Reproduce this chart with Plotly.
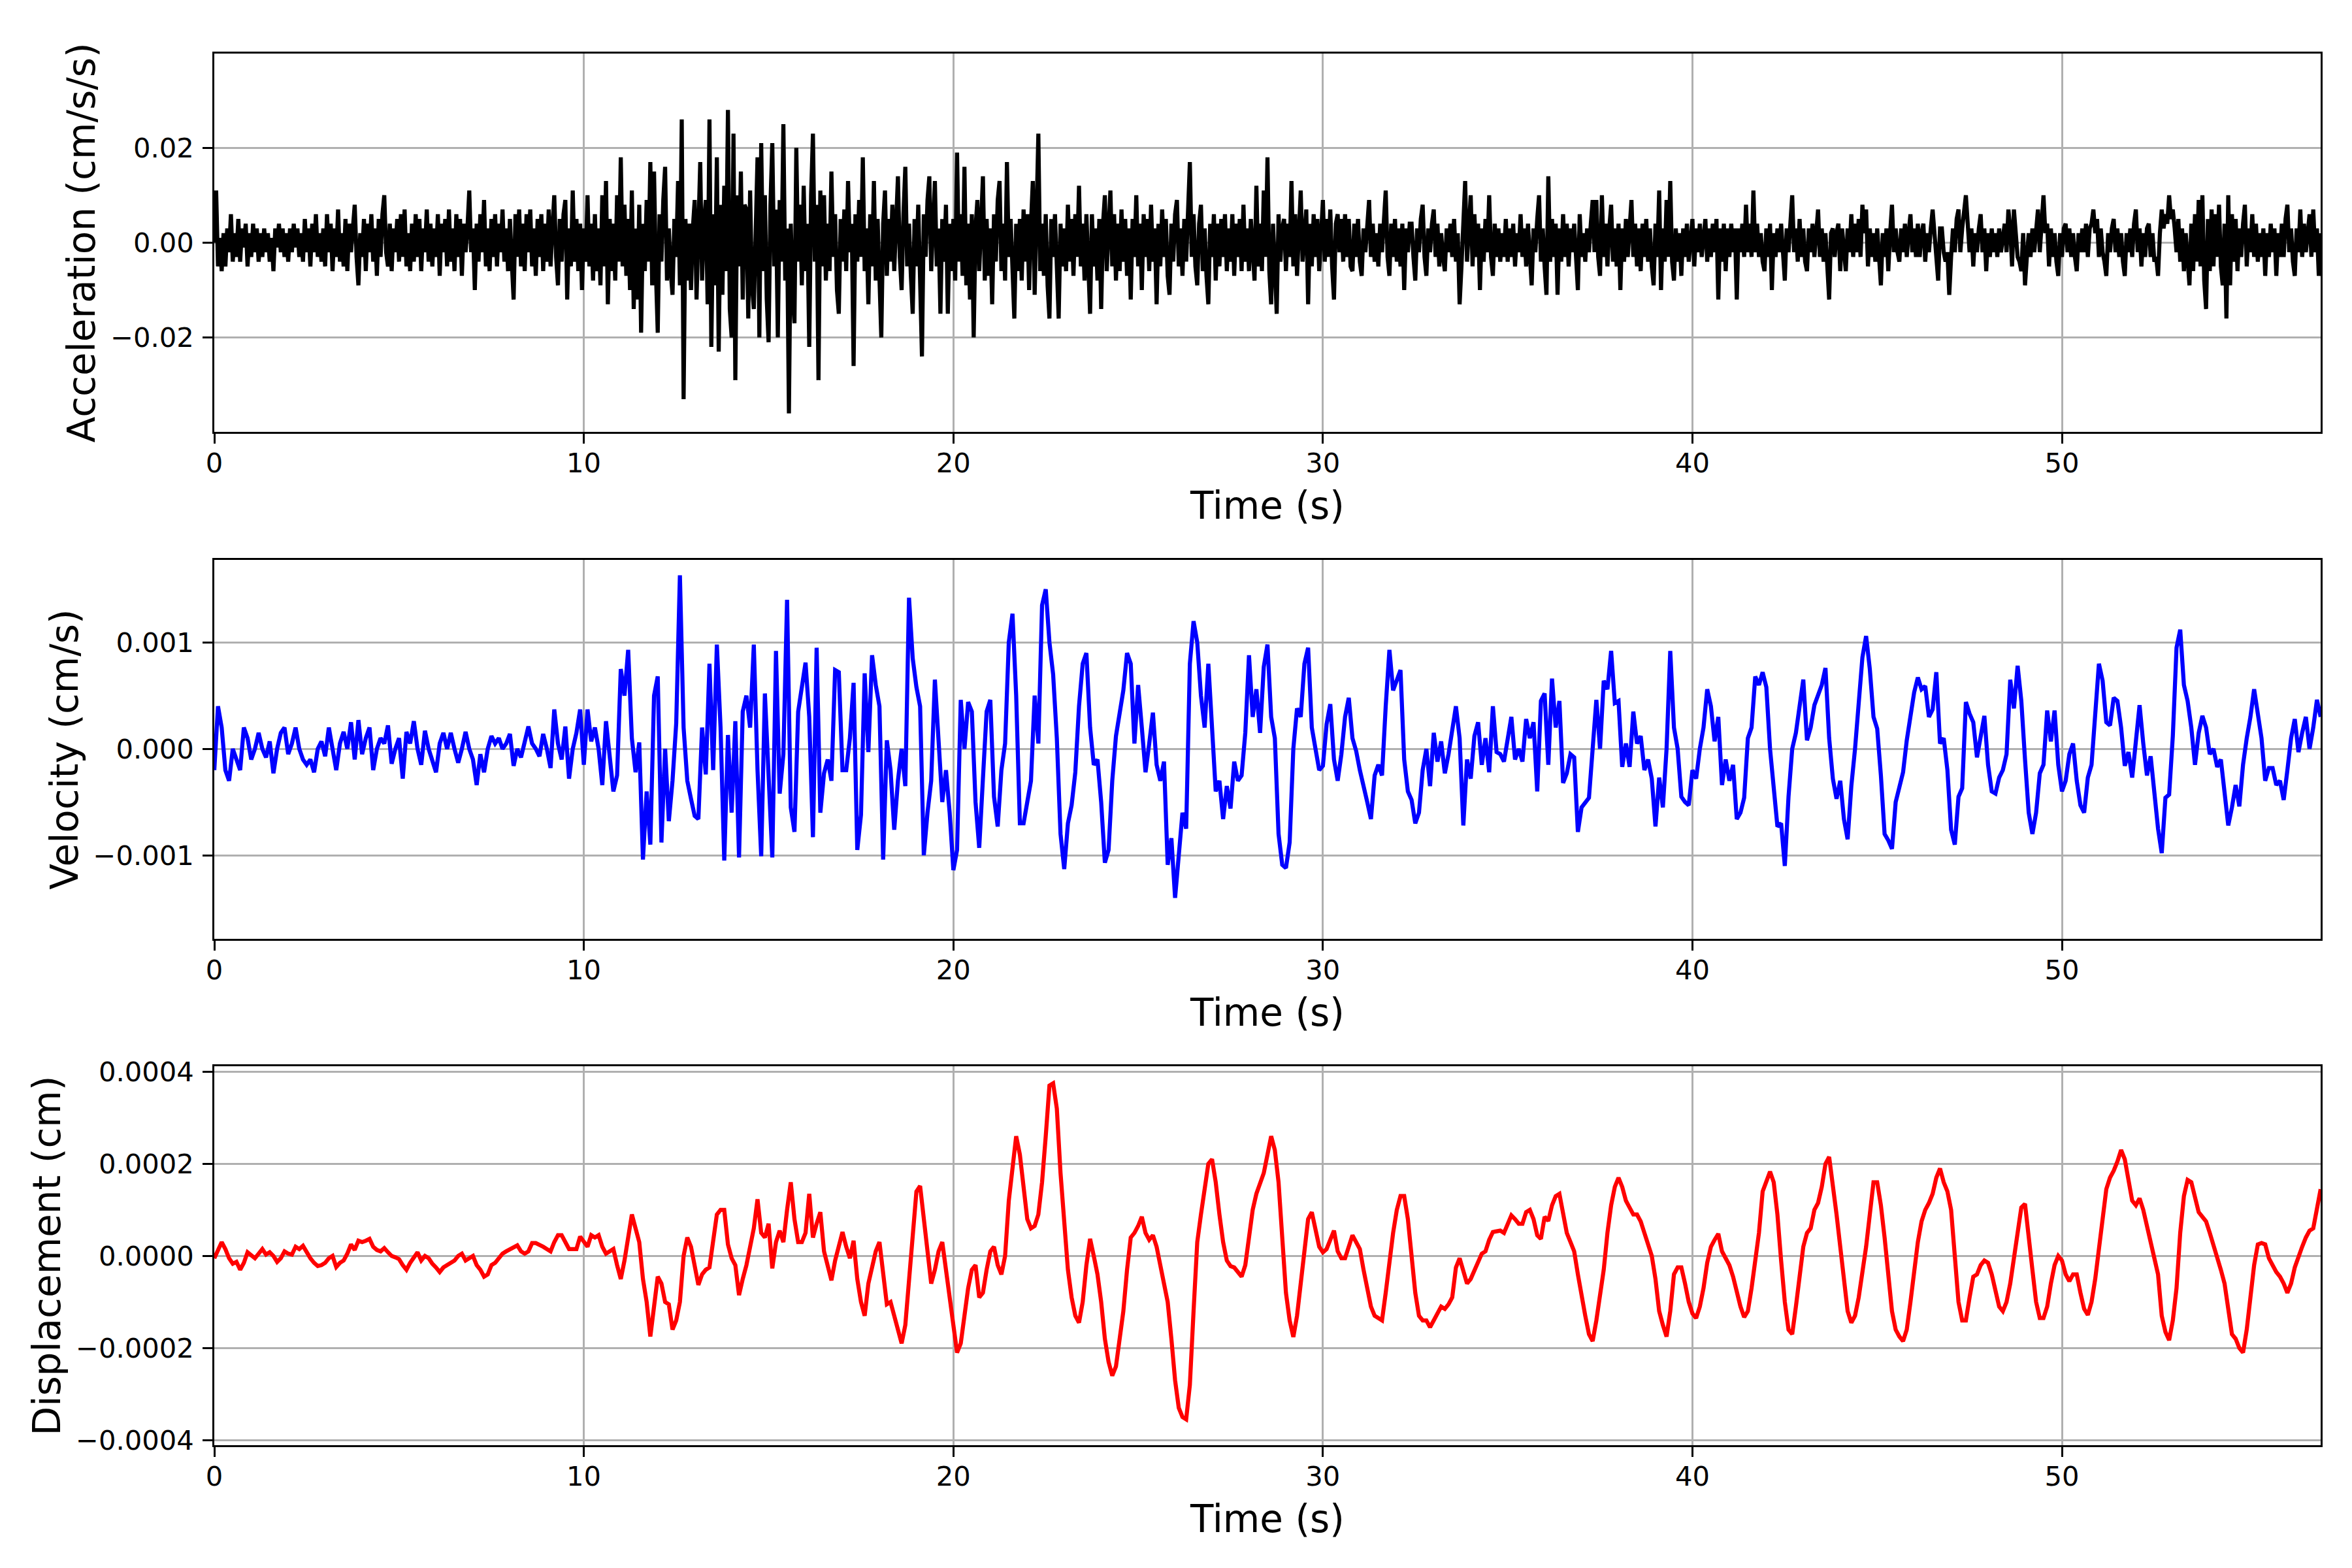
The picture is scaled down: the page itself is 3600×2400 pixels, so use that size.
import numpy as np
import plotly.graph_objects as go

# sample spacing of each record (s)
DT_ACC = 0.05
DT_VEL = 0.1
DT_DISP = 0.1

# acceleration, units of 1e-3 cm/s/s, one row per second
ACC_MILLI = [
    0, 11, -5, 1, -6, 2, -5, 3, -2, 6, -4, 2, -3, 5, -4, 3, -1, 4, -5, 2,
    -3, 4, -2, 3, -4, 2, -3, 3, -2, 2, -4, 1, -6, 3, -1, 4, -2, 3, -3, 2,
    -4, 3, -2, 4, -1, 3, -3, 2, -4, 5, -2, 3, -5, 4, -2, 6, -3, 2, -4, 3,
    -5, 6, -2, 4, -6, 3, -3, 7, -4, 2, -5, 5, -6, 4, -2, 4, 8, -3, -9, 2,
    -3, 5, -6, 4, -2, 6, -4, 3, -7, 5, -3, 6, 10, -2, -5, 4, -6, 3, -2, 5,
    -4, 6, -3, 7, -5, 2, -6, 4, -4, 6, -3, 5, -6, 3, -2, 7, -4, 4, -5, 3,
    -3, 6, -7, 4, -2, 5, -5, 7, -4, 3, -6, 6, -3, 5, -7, 4, -2, 3, 11, -2,
    3, -10, 4, -4, 6, -2, 9, -5, 3, -6, 5, -3, 6, -5, 4, -2, 7, -4, 3, -6,
    5, -4, -12, 6, -3, 7, -5, 4, -6, 6, -2, 7, -5, 3, -7, 5, -3, 6, -6, 4,
    -4, 7, -5, 3, 10, -3, -9, 5, -4, 6, 9, -12, 3, -5, 11, -4, 5, -6, 4, -10,
    3, -4, 10, -5, 4, -8, 6, -6, 3, -9, 10, -5, 13, -13, 5, -6, 4, -8, 10, -4,
    18, -5, 8, -7, 5, -10, 11, -14, 3, -12, 8, -19, 4, -6, 9, -4, 17, -9, 15, -6,
    -19, 6, -4, 9, 16, -8, 3, -6, -11, 5, -3, 13, -9, 26, -33, 5, -8, 4, -10, 3,
    9, -12, 6, 17, -8, 4, 9, -13, 26, -22, 6, -9, 18, -23, 8, -11, 12, -6, 28, -14,
    -20, 23, -29, 10, -5, 15, -12, 8, 7, -16, 11, -9, -14, 6, 18, -20, 21, -6, 10, -12,
    -21, 8, 21, -5, 7, -20, 9, -4, 25, -8, 3, -36, 4, -10, -17, 20, -4, 8, -9, 12,
    -6, 4, -22, 10, 23, -4, 8, -29, 11, -5, 10, -8, 4, -6, 15, -3, 6, -10, -15, 5,
    -4, 7, -6, 13, -2, 4, -26, 6, -4, 9, -3, 18, -6, 3, -13, 6, -5, 13, -8, 5,
    -6, -20, 4, 11, -7, 5, -4, 8, -6, 3, 14, -3, -10, 6, 16, -5, 4, -7, -15, 5,
    -5, 8, -10, -24, 6, -3, 9, 14, -6, 4, 13, -5, 3, -15, 5, -4, 8, -15, 4, -6,
    5, -8, 19, -4, 6, -7, 16, -9, 4, -12, 6, -20, 3, 9, -6, 4, 14, -8, 5, -7,
    3, -13, 6, -4, 9, 13, -6, 4, -8, 17, -3, 5, -9, -16, 4, -6, 5, -8, 7, -4,
    6, -10, 4, 13, -11, 5, 23, -6, 4, -7, 6, -9, -16, 5, -3, 6, -8, -16, 4, -5,
    3, -6, 8, -4, 5, -7, 6, -3, 12, -5, 4, -8, 6, -4, -15, 6, -5, 3, -8, 5,
    -14, 4, 10, -6, 3, 11, -5, 6, -8, 4, -6, 7, -4, 5, -7, 3, -12, 5, -3, 10,
    -5, 4, -10, 6, -3, 5, -6, 8, -4, 3, -13, 4, -5, 7, -3, 5, -7, -11, 4, -4,
    6, 9, -5, 3, -7, 5, -4, 6, 17, -3, 6, -5, -9, 4, 8, -6, 3, -7, -13, 4,
    -3, 6, -8, 4, -5, 5, -3, 6, -6, 3, -4, 6, -7, 4, -3, 5, -6, 8, -4, 3,
    -6, 5, -3, -8, 12, -5, 4, -6, 11, -3, 18, -6, -13, 4, -5, -15, 6, -4, 3, 5,
    -6, 4, -3, 13, -5, 6, -7, 4, 11, -4, 3, 7, -13, 4, -5, 6, -3, 5, -6, 3,
    9, -4, 5, -3, 7, -5, -12, 4, 6, -2, 5, -4, 6, -3, 5, -5, -6, 4, -3, 5,
    -4, -7, 3, -2, 5, 9, -3, 4, -4, 2, -5, 4, -2, 6, 11, -3, -7, 4, -3, 5,
    -4, 3, -5, 4, -10, 3, -2, 4, 4, -3, -8, 3, -2, 5, 8, -3, -7, 3, -2, 4,
    7, -3, 4, -5, 2, -3, -6, 3, -2, 4, -3, 5, -4, 2, -13, -5, 6, 13, -4, 3,
    10, -5, 6, -3, 4, -10, 3, -4, 5, -2, 10, -3, -7, 4, -3, 3, -4, 2, -3, 5,
    -4, 3, -3, 4, -5, 2, -2, 6, -3, 3, -5, 4, -3, -9, 3, -2, 5, 10, -4, 3,
    -5, -11, 14, -4, 5, -3, 4, -11, 3, -4, 6, -3, 4, -5, 3, -2, 4, -4, -10, 6,
    -3, 2, -4, 3, -2, 4, 9, -2, 9, -3, -7, 10, -3, 4, -5, 3, 8, -4, 3, -5,
    4, -10, 3, -4, 5, -3, 4, 9, -3, 4, -5, 3, -6, 4, -3, 5, -4, 3, -5, -9,
    4, -3, 11, -10, 3, -4, 9, -3, 13, -4, -8, 3, -4, 2, -7, 3, -3, 4, -4, 2,
    5, -5, 3, -2, 4, -3, 2, 5, -4, 3, -3, 4, -2, 5, -12, 3, -4, 4, -6, 3,
    -3, 4, -2, 3, -12, 3, -2, 4, -3, 8, -2, 4, -3, 11, -2, 4, -3, 2, -4, -6,
    3, -3, 4, -10, 2, -3, 3, -2, 4, -4, -8, 3, -2, 4, 10, -2, 3, -4, 5, -3,
    3, -4, -6, 3, -2, 4, -3, 2, 7, -3, 3, -4, 2, -5, -12, 2, 3, -3, 2, 4,
    -6, 3, -2, -6, 3, -2, 6, -3, 4, -2, 5, -3, 8, 2, 7, -5, 3, -3, 2, -4,
    3, -5, -9, 2, -3, 3, -6, 2, 8, -2, 3, -2, -4, 3, -2, 4, -3, 2, 6, -2,
    3, -3, 4, -3, 2, 4, -4, 2, -2, 3, 7, 2, -3, -8, 3, 3, -2, -4, -2, -11,
    -3, 3, -2, 5, 7, -2, 3, 6, 10, 4, -2, 3, -5, 2, -2, 3, 6, -2, 3, -6,
    2, -3, 3, -2, 2, -3, 3, -2, 2, 4, -2, 7, 3, -5, 7, 2, -3, -4, -6, 2,
    -9, -3, 2, -3, 3, -2, 4, 7, -2, 3, 10, 2, 4, -5, 3, -3, 2, -4, -7, 2,
    -3, 3, 4, -2, 3, -3, 2, -3, -6, 2, -2, 3, -2, 4, -3, 3, 4, 7, 2, 5,
    -3, 3, -2, -4, -7, 2, -2, 3, 5, -2, 3, -3, 2, -4, -7, 2, -2, 3, -3, 4,
    7, -2, 3, -5, 2, -3, 3, 4, -3, 2, -4, -3, -7, 2, 7, 3, 6, 4, 10, 5,
    7, 3, -2, 5, -4, 3, -6, 2, -5, -9, 4, -6, 6, -4, 9, -5, 10, -8, -14, 5,
    -6, 7, -5, 6, -3, 8, -5, -9, 4, -16, 10, -9, 6, -4, 5, -6, 3, -3, 4, 8,
    -5, 3, -2, 6, -3, 4, -4, 2, -3, 3, -7, 2, -3, 4, -2, 3, -7, 2, -3, 4,
    -3, 5, 8, -2, 3, -4, -7, 3, -2, 7, -3, 4, -2, 3, 6, -3, 7, -2, 3, -7,
    2,
]

# velocity, units of 1e-4 cm/s, one row per second
VEL_E4 = [
    -2, 4, 2, -2, -3, 0, -1, -2, 2, 1,
    -1, 0, 1.5, 0, -0.8, 0.7, -2.3, 0, 1.5, 2,
    -0.5, 0.5, 2, 0, -1, -1.5, -1, -2.2, 0, 0.7,
    -0.7, 2, 0, -2, 0.5, 1.6, 0, 2.5, -1, 2.7,
    -0.5, 1, 2, -2, 0, 1, 0.5, 2.2, -1.4, 0,
    1, -2.8, 1.6, 0.5, 2.6, 0, -1.5, 1.7, 0, -1,
    -2.2, 0.5, 1.5, 0, 1.5, 0, -1.3, 0, 1.6, 0,
    -1, -3.4, -0.5, -2.2, 0, 1.2, 0.5, 1, 0, 0.5,
    1.4, -1.6, 0, -0.8, 0.5, 2.1, 0.5, 0, -0.7, 1.4,
    0, -1.8, 3.7, 0.5, -1, 2.1, -2.8, 0, 1.5, 3.7,
    -1.5, 3.7, 0.7, 2, 0, -3.4, 2.6, -1, -4, -2.5,
    7.5, 5, 9.3, 1, -2.2, 0.6, -10.4, -4, -9, 5,
    6.8, -8.8, 0, -6.8, -3, 2.4, 16.3, 2, -3, -4.7,
    -6.3, -6.6, 2, -2.4, 8, -2, 9.8, 2, -10.5, 1.3,
    -6, 2.6, -10.2, 3.5, 5, 2, 9.8, -2, -10.1, 5.2,
    -3, -10.2, 9.2, -4.2, -0.5, 14, -5.5, -7.8, 3.5, 6,
    8.1, 3, -8.3, 9.5, -6, -2.3, -1, -3, 7.4, 7.2,
    -2, -2, 1, 6.2, -9.5, -6.2, 7.1, -0.3, 8.8, 6,
    4, -10.4, 0.8, -2, -7.6, -3, 0, -3.5, 14.2, 8.5,
    5.8, 4, -10, -6, -3, 6.5, 0, -5, -2, -6,
    -11.4, -9.5, 4.6, 0, 4.4, 3.5, -5, -9.3, -2.8, 3.5,
    4.6, -4.5, -7.3, -2, 0.5, 10, 12.7, 5, -7, -7,
    -5, -3, 5, 0.5, 13.5, 15, 10, 7, 1, -8,
    -11.3, -7, -5.3, -2.2, 4, 8, 9, 2, -1.5, -1,
    -5, -10.7, -9.5, -3, 1.2, 3.5, 5.5, 9, 8, 0.5,
    6, 2, -2.2, 0.5, 3.4, -1.5, -3, -1.2, -10.9, -8.4,
    -14, -10, -6, -7.5, 8, 12, 10, 5, 2, 8,
    2.3, -4, -3, -6.6, -3.5, -5.6, -1.2, -3, -2.5, 1.5,
    8.8, 3, 5.6, 1.5, 7.7, 9.8, 3, 1, -8, -10.9,
    -11.2, -8.8, 0, 3.8, 3, 8, 9.5, 2, 0, -2,
    -1.6, 2.3, 4.2, -1, -3, -0.5, 3, 4.8, 1, -0.2,
    -2, -3.7, -5, -6.6, -2.5, -1.5, -2.5, 4, 9.3, 5.5,
    6.5, 7.4, -1, -4, -4.8, -7, -6, -2, 0, -3.5,
    1.5, -1.2, 0.7, -2.3, -0.5, 1.5, 4, 1, -7.2, -1,
    -2.8, 1.2, 2.5, -1.5, 1, -2.2, 4, -0.3, -0.5, -1.2,
    1, 3, -1, 0, -1.2, 2.8, 1, 2.5, -4, 4.5,
    5.2, -1.5, 6.6, 2, 4.5, -3.2, -2.3, -0.5, -0.8, -7.8,
    -5.5, -5, -4.6, 0, 4.6, 0, 6.4, 5.6, 9.2, 4.3,
    4.5, -1.7, 0.5, -1.7, 3.5, 0.5, 1.2, -2, -1, -2.8,
    -7.3, -2.7, -5.5, 0, 9.2, 2, 0, -4.5, -5, -5.3,
    -2, -2.8, 0, 2, 5.6, 4, 0.7, 3, -3.4, -1,
    -3, -1.5, -6.6, -6, -4.6, 1, 2, 6.8, 6, 7.2,
    5.8, 0, -3.5, -7.3, -7, -11, -4.5, 0, 1.5, 4.3,
    6.5, 0.8, 2, 4.1, 5.2, 6, 7.6, 1, -2.8, -4.7,
    -3, -6.6, -8.5, -3.5, 0, 4.4, 8.6, 10.6, 7.5, 3,
    1.9, -2.5, -8, -8.6, -9.4, -5, -3.5, -2.2, 0.8, 3,
    5.3, 6.7, 5.6, 5.9, 3, 3.7, 7.2, 0.5, 1, -2,
    -7.6, -9, -4.5, -3.7, 4.4, 3.3, 2.5, -0.8, 1.1, 3.1,
    -1.5, -4, -4.2, -2.7, -2, -0.5, 6.5, 3.8, 7.8, 4.5,
    -1, -6, -8, -6, -2.3, -1.5, 3.6, 0.7, 3.6, -1.5,
    -4, -3, -0.5, 0.5, -3, -5.3, -6, -2.7, -1.5, 3,
    8, 6.4, 2.5, 2.2, 4.8, 4.5, 2, -1.6, -0.3, -2.7,
    1, 4.1, 0.5, -2.5, -0.7, -4, -7.5, -9.8, -4.6, -4.3,
    1.2, 9.5, 11.2, 6, 4.5, 2, -1.5, 1.5, 3.1, 2,
    -0.5, 0, -1.7, -1, -4, -7.2, -5.5, -3.4, -5.4, -1.5,
    1, 3, 5.6, 3, 1, -3, -1.8, -1.8, -3.4, -3,
    -4.8, -2, 1, 2.8, -0.3, 1.5, 3, 0, 2, 4.6,
    3,
]

# displacement, units of 1e-5 cm, one row per second
DISP_E5 = [
    -0.5, 1.5, 3, 1.5, -0.5, -1.7, -1.3, -3, -1.5, 0.8,
    0, -0.5, 0.5, 1.5, 0.3, 0.8, 0, -1.3, -0.5, 1,
    0.5, 0.3, 2, 1.5, 2.2, 0.8, -0.5, -1.5, -2.2, -2,
    -1.5, -0.5, 0, -2.4, -1.5, -1, 0.5, 2.5, 1.3, 3.3,
    3, 3.3, 3.7, 2, 1.3, 1, 1.7, 0.8, 0, -0.3,
    -0.7, -2, -3, -1.5, -0.5, 0.8, -1, 0, -0.5, -1.7,
    -2.5, -3.5, -2.5, -2, -1.5, -1, 0, 0.5, -1, -0.5,
    0, -2, -3, -4.5, -4, -2, -1.5, -0.5, 0.5, 1,
    1.5, 2, 2.3, 1, 0.5, 1, 2.8, 2.8, 2.5, 2,
    1.5, 1, 3, 4.5, 4.5, 3, 1.5, 1.5, 1.5, 4.2,
    3, 2, 4.5, 4, 4.5, 2, 0.5, 1, 1.5, -2,
    -5, -1, 4, 9, 6, 3, -5, -10, -17.5, -10,
    -4.5, -6, -10, -10.5, -16, -14, -10, 0, 4, 2,
    -2, -6.3, -4, -3, -2.5, 2.8, 9, 10, 10, 2.5,
    -0.5, -2, -8.5, -5, -2, 2, 6, 12.3, 5, 4,
    7, -2.7, 3, 5.5, 3, 10, 16, 8, 3, 3,
    5, 13.5, 4, 7, 9.5, 1, -2.5, -5.3, -1, 2,
    5.2, 2, -0.5, 3.3, -5, -10, -13, -6, -2, 1,
    3, -4, -10.5, -10, -13, -16, -19, -15, -5, 5,
    14, 15.2, 8, 0, -6, -3, 1, 3, -3.5, -9,
    -15, -21, -19, -13, -7, -3, -2, -9, -8, -3,
    1, 2, -2, -4, 0, 12, 20, 26, 22, 14,
    8, 6, 6.5, 9, 16, 26, 37, 37.5, 32, 18,
    8, -3, -9, -13, -14.5, -10, -2, 3.7, 0, -4,
    -10, -18, -23, -26, -24, -18, -12, -3, 4, 5,
    6.5, 8.5, 5, 3.5, 4.5, 2, -2, -5, -10, -18,
    -27, -33, -35, -35.5, -28, -12, 3, 9, 14, 20,
    21, 16, 9, 3, -1, -2.2, -2.5, -3.5, -4.5, -2,
    4, 10, 13.5, 16, 18, 22, 26, 23, 16, 4,
    -8, -14, -17.6, -13, -6, 0, 8, 9.5, 5.5, 2,
    0.8, 1.5, 3.5, 5.5, 1, -0.5, -0.5, 2, 4.5, 3,
    1.5, -3, -7, -11, -13, -13.5, -14, -8, -1, 5,
    10, 13, 13, 8, 0, -8, -13, -14, -14, -15.5,
    -14, -12.5, -11, -11.5, -10.5, -9, -2.5, -0.5, -3, -6,
    -5, -3, -1, 0.5, 1, 3.5, 5.2, 5.3, 5.5, 5,
    7, 8.8, 8, 7, 7, 9.5, 10, 8, 4.5, 3.7,
    8.5, 7.6, 11, 13, 13.5, 9, 5, 3, 1, -4,
    -9, -13, -17, -18.5, -14, -9, -3, 5, 11, 15,
    17, 15, 12, 10.5, 9, 9, 7.5, 5, 2.5, 0,
    -5, -12, -15, -17.5, -12, -4, -2.5, -2.5, -6, -10,
    -12.5, -13.5, -11, -7, -1.5, 2, 3.5, 4.8, 1, -0.5,
    -2, -4.5, -8, -11, -13.3, -12, -7, -1, 5, 14,
    16, 18.3, 16, 9, -1, -10, -16, -17, -11, -4,
    2, 5, 6, 10, 11.5, 15, 20, 21.5, 16, 9,
    2, -5, -12, -14.5, -13, -9, -4, 2, 9, 16,
    16, 11, 4, -5, -12, -16, -17.5, -18.5, -16, -10,
    -3, 3, 7.5, 10, 11.5, 13.5, 17, 19, 16, 14,
    10, 1, -10, -14, -14, -9, -4.5, -4, -2, -1,
    -1.5, -4, -8, -11, -12, -10, -6, 0, 6, 10.5,
    11.3, 5, -3, -10, -13.5, -13.5, -11, -6, -2, 0,
    -1, -4, -5.5, -4, -4, -8, -11.5, -12.8, -10, -5,
    1, 7, 14.5, 17, 18.5, 20.5, 23, 21, 17, 12,
    11, 12.5, 10, 6.5, 3, 0, -4, -13, -16.5, -18.3,
    -14, -7, 5, 13, 16.5, 16, 13, 9.5, 8.5, 7.5,
    5, 2.5, 0, -3, -6, -12, -17, -18, -20, -21,
    -16, -9, -2, 2.5, 2.8, 2.5, -0.5, -2, -3.5, -4.5,
    -6, -8, -6, -2.5, 0, 2, 4, 5.5, 6, 10,
    14.5,
]

TIME_TICKS = [0, 10, 20, 30, 40, 50]
ACC_TICKS = [-0.02, 0.0, 0.02]
ACC_TICK_TEXT = ["\u22120.02", "0.00", "0.02"]
VEL_TICKS = [-0.001, 0.0, 0.001]
VEL_TICK_TEXT = ["\u22120.001", "0.000", "0.001"]
DISP_TICKS = [-0.0004, -0.0002, 0.0, 0.0002, 0.0004]
DISP_TICK_TEXT = ["\u22120.0004", "\u22120.0002", "0.0000", "0.0002", "0.0004"]

acc = np.array(ACC_MILLI, dtype=float) * 1e-3
vel = np.array(VEL_E4, dtype=float) * 1e-4
disp = np.array(DISP_E5, dtype=float) * 1e-5
t_acc = np.arange(len(acc)) * DT_ACC
t_vel = np.arange(len(vel)) * DT_VEL
t_disp = np.arange(len(disp)) * DT_DISP

FONT = "DejaVu Sans"
TICK_SIZE = 41.7
LABEL_SIZE = 58
LW = 6.25
SPINE = 3.33

fig = go.Figure()
fig.add_trace(go.Scatter(x=t_acc, y=acc, mode="lines", line=dict(color="black", width=LW),
                         xaxis="x", yaxis="y", showlegend=False))
fig.add_trace(go.Scatter(x=t_vel, y=vel, mode="lines", line=dict(color="blue", width=LW),
                         xaxis="x2", yaxis="y2", showlegend=False))
fig.add_trace(go.Scatter(x=t_disp, y=disp, mode="lines", line=dict(color="red", width=LW),
                         xaxis="x3", yaxis="y3", showlegend=False))


def x_axis(anchor):
    return dict(
        anchor=anchor, domain=[0, 1], range=[0, 57],
        tickvals=TIME_TICKS, ticks="outside", ticklen=14.6, tickwidth=SPINE, tickcolor="black",
        ticklabelstandoff=-6,
        showline=True, mirror=True, linecolor="black", linewidth=SPINE,
        showgrid=True, gridcolor="#b0b0b0", gridwidth=SPINE, zeroline=False,
        tickfont=dict(family=FONT, size=TICK_SIZE, color="black"),
        title=dict(text="Time (s)", font=dict(family=FONT, size=LABEL_SIZE, color="black"), standoff=22),
    )


def y_axis(anchor, domain, rng, vals, text, label):
    return dict(
        anchor=anchor, domain=domain, range=rng,
        tickvals=vals, ticktext=text, ticks="outside", ticklen=14.6, tickwidth=SPINE, tickcolor="black",
        ticklabelstandoff=5,
        showline=True, mirror=True, linecolor="black", linewidth=SPINE,
        showgrid=True, gridcolor="#b0b0b0", gridwidth=SPINE, zeroline=False,
        tickfont=dict(family=FONT, size=TICK_SIZE, color="black"),
        title=dict(text=label, font=dict(family=FONT, size=LABEL_SIZE, color="black"), standoff=5),
    )


# the page body adds an 8 px offset, so margins are shifted to compensate
fig.update_layout(
    width=3600, height=2400,
    margin=dict(l=320, r=56, t=74, b=196),
    paper_bgcolor="white", plot_bgcolor="white",
    font=dict(family=FONT, color="black"),
    xaxis=x_axis("y"),
    xaxis2=x_axis("y2"),
    xaxis3=x_axis("y3"),
    yaxis=y_axis("x", [0.7282, 1.0], [-0.0399, 0.0399], ACC_TICKS, ACC_TICK_TEXT,
                 "Acceleration (cm/s/s)"),
    yaxis2=y_axis("x2", [0.3638, 0.6362], [-0.001786, 0.001776], VEL_TICKS, VEL_TICK_TEXT,
                  "Velocity (cm/s)"),
    yaxis3=y_axis("x3", [0.0, 0.2723], [-0.000411, 0.000412], DISP_TICKS, DISP_TICK_TEXT,
                  "Displacement (cm)"),
)

fig.write_html("out.html")
